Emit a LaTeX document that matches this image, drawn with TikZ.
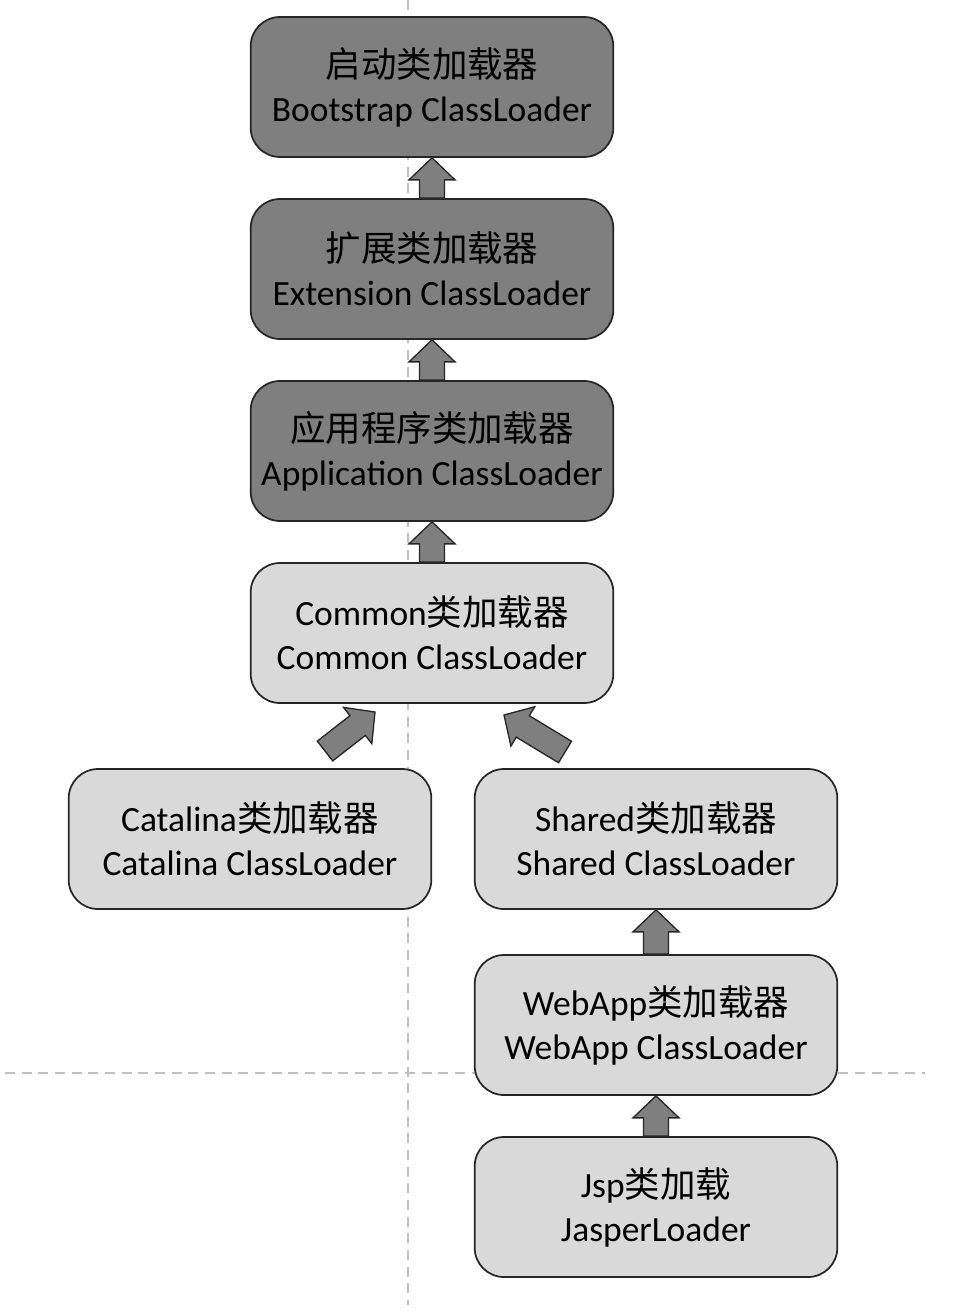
\documentclass[tikz,border=0pt]{standalone}
\usepackage{fontspec}
\setmainfont{Carlito}
\newfontfamily\cjk{Noto Sans CJK SC}
\usetikzlibrary{calc}
\definecolor{darkfill}{HTML}{7F7F7F}
\definecolor{lightfill}{HTML}{D9D9D9}
\definecolor{edgecol}{HTML}{262626}
\definecolor{guide}{HTML}{C0C0C0}
\newcommand\blockarrow[2]{%
  \coordinate (hb) at ($(#2)!16.5pt!(#1)$);
  \draw[blockarr] ($(#1)!9.4pt!90:(#2)$) -- ($(hb)!9.4pt!90:(#2)$)
    -- ($(hb)!17.25pt!90:(#2)$) -- (#2) -- ($(hb)!17.25pt!-90:(#2)$)
    -- ($(hb)!9.4pt!-90:(#2)$) -- ($(#1)!9.4pt!-90:(#2)$) -- cycle;
}
\tikzset{
  cbox/.style={draw=edgecol, line width=1.3pt, rounded corners=22pt,
    minimum width=272pt, minimum height=105pt, align=center, inner sep=0pt,
    font=\fontsize{26.6}{33}\selectfont, text=black},
  darkbox/.style={cbox, fill=darkfill},
  lightbox/.style={cbox, fill=lightfill},
  blockarr/.style={draw=edgecol, line width=1pt, fill=darkfill, line join=miter},
  guideline/.style={draw=guide, line width=1.1pt, dash pattern=on 7.5pt off 5pt}
}
\begin{document}
\begin{tikzpicture}[x=0.75pt,y=-0.75pt]
\useasboundingbox (0,0) rectangle (974,1312);
% guide lines
\coordinate (vtop) at (408,0);
\coordinate (vbot) at (408,1305);
\coordinate (hleft) at (5,1073);
\coordinate (hright) at (925,1073);
\draw[guideline] (vtop) -- (vbot);
\draw[guideline] (hleft) -- (hright);
% boxes
\node[darkbox] (boot) at (432,87) {{\cjk 启动类加载器}\\Bootstrap ClassLoader};
\node[darkbox] (ext) at (432,269) {{\cjk 扩展类加载器}\\Extension ClassLoader};
\node[darkbox] (app) at (432,451) {{\cjk 应用程序类加载器}\\Application ClassLoader};
\node[lightbox] (common) at (432,633) {Common{\cjk 类加载器}\\Common ClassLoader};
\node[lightbox] (catalina) at (250,839) {Catalina{\cjk 类加载器}\\Catalina ClassLoader};
\node[lightbox] (shared) at (656,839) {Shared{\cjk 类加载器}\\Shared ClassLoader};
\node[lightbox] (webapp) at (656,1025) {WebApp{\cjk 类加载器}\\WebApp ClassLoader};
\node[lightbox] (jsp) at (656,1207) {Jsp{\cjk 类加载}\\JasperLoader};
% arrows
\blockarrow{ext.north}{boot.south}
\blockarrow{app.north}{ext.south}
\blockarrow{common.north}{app.south}
\blockarrow{webapp.north}{shared.south}
\blockarrow{jsp.north}{webapp.south}
\coordinate (catTail) at (325,751);
\coordinate (catTip) at (375,712);
\coordinate (shTail) at (565,752);
\coordinate (shTip) at (504,715);
\blockarrow{catTail}{catTip}
\blockarrow{shTail}{shTip}
\end{tikzpicture}
\end{document}
